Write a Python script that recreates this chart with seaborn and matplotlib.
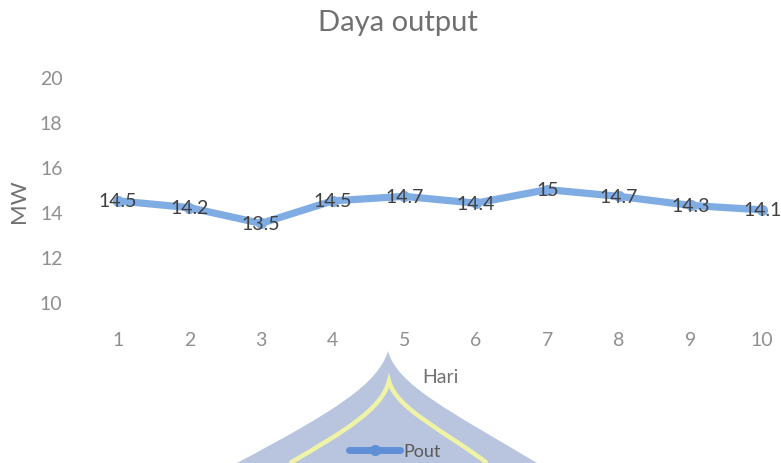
import matplotlib
matplotlib.use("Agg")
import matplotlib.pyplot as plt
from matplotlib.path import Path
from matplotlib.patches import PathPatch
from matplotlib.lines import Line2D
import seaborn as sns
import pandas as pd

# Daily output power (MW)
hari = [1, 2, 3, 4, 5, 6, 7, 8, 9, 10]
pout = [14.5, 14.2, 13.5, 14.5, 14.7, 14.4, 15, 14.7, 14.3, 14.1]
y_ticks = [10, 12, 14, 16, 18, 20]
series_name = "Pout"

df = pd.DataFrame({"Hari": hari, "MW": pout})

sns.set_style("white")
plt.rcParams["font.family"] = ["Lato", "DejaVu Sans"]

W, H = 781, 464
fig = plt.figure(figsize=(W / 100, H / 100), dpi=100)

# background emblem (figure pixel coordinates, converted to fractions)
def fpath(pts, codes):
    return Path([(x / W, 1 - y / H) for x, y in pts], codes)

C = Path.CURVE4
outer = fpath(
    [(388, 352), (378, 385), (335, 412), (237, 464), (537, 464),
     (450, 412), (397, 386), (388, 352), (388, 352)],
    [Path.MOVETO, C, C, C, Path.LINETO, C, C, C, Path.CLOSEPOLY],
)
fig.patches.append(PathPatch(outer, transform=fig.transFigure,
                             facecolor="#b9c5df", edgecolor="none", zorder=0))
inner = fpath(
    [(290, 464), (345, 432), (382, 410), (389, 382),
     (396, 410), (445, 432), (487, 464)],
    [Path.MOVETO, C, C, C, C, C, C],
)
fig.patches.append(PathPatch(inner, transform=fig.transFigure,
                             facecolor="none", edgecolor="#eef3a6",
                             linewidth=3.2, zorder=0))

ax = fig.add_axes([82 / W, 1 - 328 / H, 716 / W, (328 - 73.5) / H])
ax.set_facecolor("none")

line_color = "#80ace4"
sns.lineplot(data=df, x="Hari", y="MW", ax=ax, color=line_color,
             linewidth=5.2, marker="o", markersize=8, markeredgewidth=0,
             legend=False)

for x, y in zip(hari, pout):
    ax.text(x, y, f"{y:g}", ha="center", va="center", fontsize=14,
            color="#404040", zorder=5)

ax.set_xlim(0.5, 10.5)
ax.set_ylim(8.9, 20.2)
ax.set_xticks(hari)
ax.set_yticks(y_ticks)
ax.tick_params(axis="both", length=0, labelsize=14, labelcolor="#8f8f8f")
ax.tick_params(axis="x", pad=3)
ax.tick_params(axis="y", pad=14)
for s in ax.spines.values():
    s.set_visible(False)
ax.grid(False)

ax.set_xlabel("Hari", fontsize=14, color="#707070", labelpad=14)
ax.set_ylabel("MW", fontsize=16, color="#707070", labelpad=8)

fig.text(398 / W, 1 - 23 / H, "Daya output", ha="center", va="center",
         fontsize=21, color="#707070")

handle = Line2D([], [], color="#5f8fd6", linewidth=5, marker="o",
                markersize=8, markeredgewidth=0)
fig.legend([handle], [series_name], loc="center",
           bbox_to_anchor=(395 / W, 1 - 452 / H), frameon=False,
           fontsize=13, labelcolor="#5a5a5a", handlelength=2.8,
           handletextpad=0.2)

fig.savefig("out.png", dpi=100)
